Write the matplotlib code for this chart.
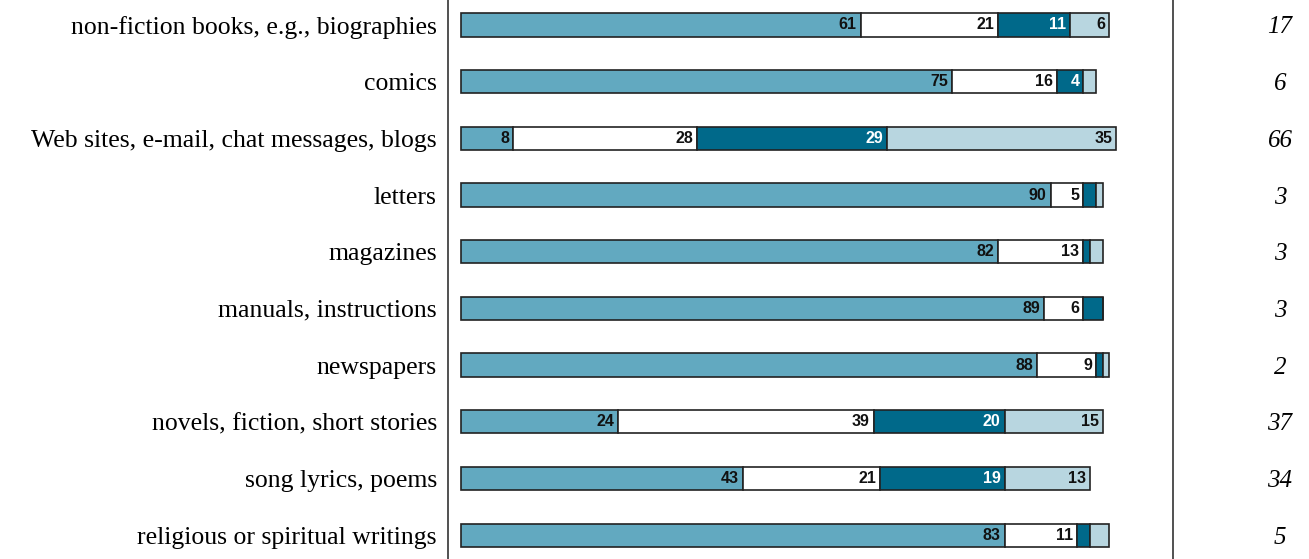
import numpy as np
import matplotlib.pyplot as plt

categories = [
    "non-fiction books, e.g., biographies",
    "comics",
    "Web sites, e-mail, chat messages, blogs",
    "letters",
    "magazines",
    "manuals, instructions",
    "newspapers",
    "novels, fiction, short stories",
    "song lyrics, poems",
    "religious or spiritual writings",
]
never = [61, 75, 8, 90, 82, 89, 88, 24, 43, 83]
sometimes = [21, 16, 28, 5, 13, 6, 9, 39, 21, 11]
often = [11, 4, 29, 2, 1, 3, 1, 20, 19, 2]
very_often = [6, 2, 35, 1, 2, 0, 1, 15, 13, 3]
right_values = [17, 6, 66, 3, 3, 3, 2, 37, 34, 5]

series = [never, sometimes, often, very_often]
colors = ["#62a9c0", "#ffffff", "#00698a", "#b8d6e0"]
text_colors = ["#111111", "#111111", "#ffffff", "#111111"]

W, H = 1309, 559
fig = plt.figure(figsize=(W / 100, H / 100), dpi=100)
ax = fig.add_axes([448 / W, 0, (1173 - 448) / W, 1])

y = np.arange(len(categories))
left = np.zeros(len(categories))
for vals, col, tcol in zip(series, colors, text_colors):
    vals = np.array(vals, dtype=float)
    ax.barh(y, vals, left=left, height=0.41, color=col,
            edgecolor="#222222", linewidth=1.2)
    for yi, (l, v) in enumerate(zip(left, vals)):
        if v >= 4:
            ax.text(l + v - 0.6, yi, f"{int(v)}", ha="right", va="center",
                    fontsize=11.5, fontweight="bold", color=tcol,
                    family="Liberation Sans")
    left += vals

ax.set_xlim(-1.98, 108.7)
ax.set_ylim(len(categories) - 1 + 0.42, -0.44)
ax.set_xticks([])
ax.set_yticks(y)
ax.set_yticklabels(categories, family="Liberation Serif", fontsize=18.5)
ax.tick_params(axis="y", length=0, pad=8)
for s in ["top", "bottom"]:
    ax.spines[s].set_visible(False)
for s in ["left", "right"]:
    ax.spines[s].set_color("#333333")
    ax.spines[s].set_linewidth(1.2)

for yi, v in enumerate(right_values):
    ax.annotate(str(v), xy=(1, yi), xycoords=("axes fraction", "data"),
                xytext=(107, 0), textcoords="offset pixels",
                ha="center", va="center_baseline", fontsize=18,
                family="Liberation Serif", style="italic")

fig.savefig("out.png", dpi=100)
